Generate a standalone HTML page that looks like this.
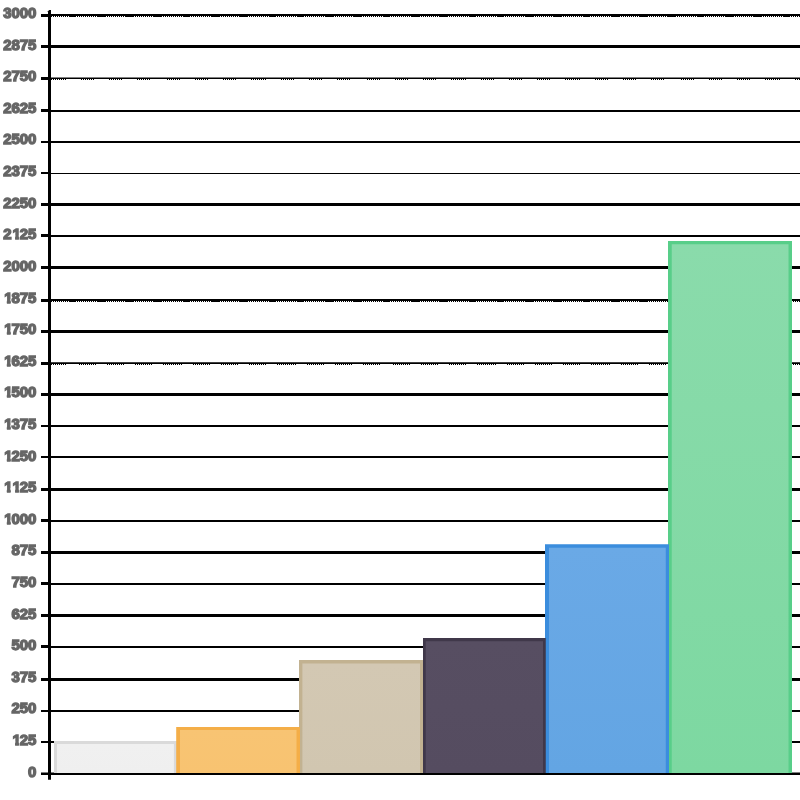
<!DOCTYPE html>
<html><head><meta charset="utf-8"><title>chart</title>
<style>
html,body{margin:0;padding:0;background:#fff;}
body{width:800px;height:800px;position:relative;overflow:hidden;font-family:"Liberation Sans",sans-serif;}
svg{position:absolute;left:0;top:0;}
.l{position:absolute;left:0;width:36.25px;letter-spacing:-0.1px;text-align:right;font-weight:bold;font-size:15px;line-height:16px;height:16px;color:#666;white-space:nowrap;-webkit-text-stroke:1.35px #666;will-change:transform;}
.o{display:inline-block;position:relative;left:1px;clip-path:polygon(-2px -2px,10px -2px,10px 9px,6.4px 9px,6.4px 18px,2.6px 18px,2.6px 9px,-2px 9px);}
</style></head><body>
<svg width="800" height="800" viewBox="0 0 800 800">
<defs>

<linearGradient id="f0" x1="0" y1="0" x2="0" y2="1"><stop offset="0" stop-color="#f0f0f0"/><stop offset="1" stop-color="#efefef"/></linearGradient>
<linearGradient id="f1" x1="0" y1="0" x2="0" y2="1"><stop offset="0" stop-color="#f8c473"/><stop offset="1" stop-color="#f8c371"/></linearGradient>
<linearGradient id="f2" x1="0" y1="0" x2="0" y2="1"><stop offset="0" stop-color="#d3c8b3"/><stop offset="1" stop-color="#d1c6b0"/></linearGradient>
<linearGradient id="f3" x1="0" y1="0" x2="0" y2="1"><stop offset="0" stop-color="#574e62"/><stop offset="1" stop-color="#554c60"/></linearGradient>
<linearGradient id="f4" x1="0" y1="0" x2="0" y2="1"><stop offset="0" stop-color="#6aa9e6"/><stop offset="1" stop-color="#63a5e3"/></linearGradient>
<linearGradient id="f5" x1="0" y1="0" x2="0" y2="1"><stop offset="0" stop-color="#8adbab"/><stop offset="1" stop-color="#7dd8a1"/></linearGradient>
</defs>
<g fill="#000">
<rect x="51" y="14" width="749" height="2"/><rect x="41" y="14" width="8" height="3"/>
<path d="M51 16h1v1h-1zM53 16h1v1h-1zM55 16h1v1h-1zM57 16h1v1h-1zM59 16h1v1h-1zM61 16h1v1h-1zM63 16h1v1h-1zM65 16h1v1h-1zM67 16h1v1h-1zM69 16h7v1h-7zM77 16h1v1h-1zM79 16h1v1h-1zM81 16h1v1h-1zM83 16h1v1h-1zM85 16h1v1h-1zM87 16h1v1h-1zM89 16h1v1h-1zM91 16h1v1h-1zM93 16h1v1h-1zM95 16h1v1h-1zM97 16h9v1h-9zM107 16h1v1h-1zM109 16h1v1h-1zM111 16h1v1h-1zM113 16h1v1h-1zM115 16h1v1h-1zM117 16h1v1h-1zM119 16h1v1h-1zM121 16h1v1h-1zM123 16h1v1h-1zM125 16h9v1h-9zM135 16h1v1h-1zM137 16h1v1h-1zM139 16h1v1h-1zM141 16h1v1h-1zM143 16h1v1h-1zM145 16h1v1h-1zM147 16h1v1h-1zM149 16h1v1h-1zM151 16h1v1h-1zM153 16h9v1h-9zM163 16h1v1h-1zM165 16h1v1h-1zM167 16h1v1h-1zM169 16h1v1h-1zM171 16h1v1h-1zM173 16h1v1h-1zM175 16h1v1h-1zM177 16h1v1h-1zM179 16h1v1h-1zM181 16h1v1h-1zM183 16h7v1h-7zM191 16h1v1h-1zM193 16h1v1h-1zM195 16h1v1h-1zM197 16h1v1h-1zM199 16h1v1h-1zM201 16h1v1h-1zM203 16h1v1h-1zM205 16h1v1h-1zM207 16h1v1h-1zM209 16h1v1h-1zM211 16h9v1h-9zM221 16h1v1h-1zM223 16h1v1h-1zM225 16h1v1h-1zM227 16h1v1h-1zM229 16h1v1h-1zM231 16h1v1h-1zM233 16h1v1h-1zM235 16h1v1h-1zM237 16h1v1h-1zM239 16h9v1h-9zM249 16h1v1h-1zM251 16h1v1h-1zM253 16h1v1h-1zM255 16h1v1h-1zM257 16h1v1h-1zM259 16h1v1h-1zM261 16h1v1h-1zM263 16h1v1h-1zM265 16h1v1h-1zM267 16h1v1h-1zM269 16h7v1h-7zM277 16h1v1h-1zM279 16h1v1h-1zM281 16h1v1h-1zM283 16h1v1h-1zM285 16h1v1h-1zM287 16h1v1h-1zM289 16h1v1h-1zM291 16h1v1h-1zM293 16h1v1h-1zM295 16h1v1h-1zM297 16h7v1h-7zM305 16h1v1h-1zM307 16h1v1h-1zM309 16h1v1h-1zM311 16h1v1h-1zM313 16h1v1h-1zM315 16h1v1h-1zM317 16h1v1h-1zM319 16h1v1h-1zM321 16h1v1h-1zM323 16h1v1h-1zM325 16h9v1h-9zM335 16h1v1h-1zM337 16h1v1h-1zM339 16h1v1h-1zM341 16h1v1h-1zM343 16h1v1h-1zM345 16h1v1h-1zM347 16h1v1h-1zM349 16h1v1h-1zM351 16h1v1h-1zM353 16h9v1h-9zM363 16h1v1h-1zM365 16h1v1h-1zM367 16h1v1h-1zM369 16h1v1h-1zM371 16h1v1h-1zM373 16h1v1h-1zM375 16h1v1h-1zM377 16h1v1h-1zM379 16h1v1h-1zM381 16h1v1h-1zM383 16h7v1h-7zM391 16h1v1h-1zM393 16h1v1h-1zM395 16h1v1h-1zM397 16h1v1h-1zM399 16h1v1h-1zM401 16h1v1h-1zM403 16h1v1h-1zM405 16h1v1h-1zM407 16h1v1h-1zM409 16h1v1h-1zM411 16h9v1h-9zM421 16h1v1h-1zM423 16h1v1h-1zM425 16h1v1h-1zM427 16h1v1h-1zM429 16h1v1h-1zM431 16h1v1h-1zM433 16h1v1h-1zM435 16h1v1h-1zM437 16h1v1h-1zM439 16h9v1h-9zM449 16h1v1h-1zM451 16h1v1h-1zM453 16h1v1h-1zM455 16h1v1h-1zM457 16h1v1h-1zM459 16h1v1h-1zM461 16h1v1h-1zM463 16h1v1h-1zM465 16h1v1h-1zM467 16h1v1h-1zM469 16h7v1h-7zM477 16h1v1h-1zM479 16h1v1h-1zM481 16h1v1h-1zM483 16h1v1h-1zM485 16h1v1h-1zM487 16h1v1h-1zM489 16h1v1h-1zM491 16h1v1h-1zM493 16h1v1h-1zM495 16h1v1h-1zM497 16h7v1h-7zM505 16h1v1h-1zM507 16h1v1h-1zM509 16h1v1h-1zM511 16h1v1h-1zM513 16h1v1h-1zM515 16h1v1h-1zM517 16h1v1h-1zM519 16h1v1h-1zM521 16h1v1h-1zM523 16h1v1h-1zM525 16h9v1h-9zM535 16h1v1h-1zM537 16h1v1h-1zM539 16h1v1h-1zM541 16h1v1h-1zM543 16h1v1h-1zM545 16h1v1h-1zM547 16h1v1h-1zM549 16h1v1h-1zM551 16h1v1h-1zM553 16h9v1h-9zM563 16h1v1h-1zM565 16h1v1h-1zM567 16h1v1h-1zM569 16h1v1h-1zM571 16h1v1h-1zM573 16h1v1h-1zM575 16h1v1h-1zM577 16h1v1h-1zM579 16h1v1h-1zM581 16h1v1h-1zM583 16h7v1h-7zM591 16h1v1h-1zM593 16h1v1h-1zM595 16h1v1h-1zM597 16h1v1h-1zM599 16h1v1h-1zM601 16h1v1h-1zM603 16h1v1h-1zM605 16h1v1h-1zM607 16h1v1h-1zM609 16h1v1h-1zM611 16h9v1h-9zM621 16h1v1h-1zM623 16h1v1h-1zM625 16h1v1h-1zM627 16h1v1h-1zM629 16h1v1h-1zM631 16h1v1h-1zM633 16h1v1h-1zM635 16h1v1h-1zM637 16h1v1h-1zM639 16h9v1h-9zM649 16h1v1h-1zM651 16h1v1h-1zM653 16h1v1h-1zM655 16h1v1h-1zM657 16h1v1h-1zM659 16h1v1h-1zM661 16h1v1h-1zM663 16h1v1h-1zM665 16h1v1h-1zM667 16h9v1h-9zM677 16h1v1h-1zM679 16h1v1h-1zM681 16h1v1h-1zM683 16h1v1h-1zM685 16h1v1h-1zM687 16h1v1h-1zM689 16h1v1h-1zM691 16h1v1h-1zM693 16h1v1h-1zM695 16h1v1h-1zM697 16h7v1h-7zM705 16h1v1h-1zM707 16h1v1h-1zM709 16h1v1h-1zM711 16h1v1h-1zM713 16h1v1h-1zM715 16h1v1h-1zM717 16h1v1h-1zM719 16h1v1h-1zM721 16h1v1h-1zM723 16h1v1h-1zM725 16h9v1h-9zM735 16h1v1h-1zM737 16h1v1h-1zM739 16h1v1h-1zM741 16h1v1h-1zM743 16h1v1h-1zM745 16h1v1h-1zM747 16h1v1h-1zM749 16h1v1h-1zM751 16h1v1h-1zM753 16h9v1h-9zM763 16h1v1h-1zM765 16h1v1h-1zM767 16h1v1h-1zM769 16h1v1h-1zM771 16h1v1h-1zM773 16h1v1h-1zM775 16h1v1h-1zM777 16h1v1h-1zM779 16h1v1h-1zM781 16h1v1h-1zM783 16h7v1h-7zM791 16h1v1h-1zM793 16h1v1h-1zM795 16h1v1h-1zM797 16h1v1h-1zM799 16h1v1h-1z"/>
<rect x="51" y="45" width="749" height="3"/><rect x="41" y="45" width="8" height="3"/>
<rect x="51" y="77.5" width="749" height="1.5"/><rect x="41" y="77" width="8" height="3"/>
<path d="M51 79h1v1h-1zM53 79h1v1h-1zM55 79h1v1h-1zM57 79h1v1h-1zM59 79h1v1h-1zM61 79h1v1h-1zM63 79h1v1h-1zM65 79h1v1h-1zM81 79h1v1h-1zM83 79h1v1h-1zM85 79h1v1h-1zM87 79h1v1h-1zM89 79h1v1h-1zM91 79h1v1h-1zM93 79h1v1h-1zM109 79h1v1h-1zM111 79h1v1h-1zM113 79h1v1h-1zM115 79h1v1h-1zM117 79h1v1h-1zM119 79h1v1h-1zM121 79h1v1h-1zM137 79h1v1h-1zM139 79h1v1h-1zM141 79h1v1h-1zM143 79h1v1h-1zM145 79h1v1h-1zM147 79h1v1h-1zM149 79h1v1h-1zM167 79h1v1h-1zM169 79h1v1h-1zM171 79h1v1h-1zM173 79h1v1h-1zM175 79h1v1h-1zM177 79h1v1h-1zM179 79h1v1h-1zM195 79h1v1h-1zM197 79h1v1h-1zM199 79h1v1h-1zM201 79h1v1h-1zM203 79h1v1h-1zM205 79h1v1h-1zM207 79h1v1h-1zM223 79h1v1h-1zM225 79h1v1h-1zM227 79h1v1h-1zM229 79h1v1h-1zM231 79h1v1h-1zM233 79h1v1h-1zM235 79h1v1h-1zM251 79h1v1h-1zM253 79h1v1h-1zM255 79h1v1h-1zM257 79h1v1h-1zM259 79h1v1h-1zM261 79h1v1h-1zM263 79h1v1h-1zM265 79h1v1h-1zM281 79h1v1h-1zM283 79h1v1h-1zM285 79h1v1h-1zM287 79h1v1h-1zM289 79h1v1h-1zM291 79h1v1h-1zM293 79h1v1h-1zM309 79h1v1h-1zM311 79h1v1h-1zM313 79h1v1h-1zM315 79h1v1h-1zM317 79h1v1h-1zM319 79h1v1h-1zM321 79h1v1h-1zM337 79h1v1h-1zM339 79h1v1h-1zM341 79h1v1h-1zM343 79h1v1h-1zM345 79h1v1h-1zM347 79h1v1h-1zM349 79h1v1h-1zM367 79h1v1h-1zM369 79h1v1h-1zM371 79h1v1h-1zM373 79h1v1h-1zM375 79h1v1h-1zM377 79h1v1h-1zM379 79h1v1h-1zM395 79h1v1h-1zM397 79h1v1h-1zM399 79h1v1h-1zM401 79h1v1h-1zM403 79h1v1h-1zM405 79h1v1h-1zM407 79h1v1h-1zM423 79h1v1h-1zM425 79h1v1h-1zM427 79h1v1h-1zM429 79h1v1h-1zM431 79h1v1h-1zM433 79h1v1h-1zM435 79h1v1h-1zM451 79h1v1h-1zM453 79h1v1h-1zM455 79h1v1h-1zM457 79h1v1h-1zM459 79h1v1h-1zM461 79h1v1h-1zM463 79h1v1h-1zM465 79h1v1h-1zM481 79h1v1h-1zM483 79h1v1h-1zM485 79h1v1h-1zM487 79h1v1h-1zM489 79h1v1h-1zM491 79h1v1h-1zM493 79h1v1h-1zM509 79h1v1h-1zM511 79h1v1h-1zM513 79h1v1h-1zM515 79h1v1h-1zM517 79h1v1h-1zM519 79h1v1h-1zM521 79h1v1h-1zM537 79h1v1h-1zM539 79h1v1h-1zM541 79h1v1h-1zM543 79h1v1h-1zM545 79h1v1h-1zM547 79h1v1h-1zM549 79h1v1h-1zM565 79h1v1h-1zM567 79h1v1h-1zM569 79h1v1h-1zM571 79h1v1h-1zM573 79h1v1h-1zM575 79h1v1h-1zM577 79h1v1h-1zM579 79h1v1h-1zM595 79h1v1h-1zM597 79h1v1h-1zM599 79h1v1h-1zM601 79h1v1h-1zM603 79h1v1h-1zM605 79h1v1h-1zM607 79h1v1h-1zM623 79h1v1h-1zM625 79h1v1h-1zM627 79h1v1h-1zM629 79h1v1h-1zM631 79h1v1h-1zM633 79h1v1h-1zM635 79h1v1h-1zM651 79h1v1h-1zM653 79h1v1h-1zM655 79h1v1h-1zM657 79h1v1h-1zM659 79h1v1h-1zM661 79h1v1h-1zM663 79h1v1h-1zM681 79h1v1h-1zM683 79h1v1h-1zM685 79h1v1h-1zM687 79h1v1h-1zM689 79h1v1h-1zM691 79h1v1h-1zM693 79h1v1h-1zM709 79h1v1h-1zM711 79h1v1h-1zM713 79h1v1h-1zM715 79h1v1h-1zM717 79h1v1h-1zM719 79h1v1h-1zM721 79h1v1h-1zM737 79h1v1h-1zM739 79h1v1h-1zM741 79h1v1h-1zM743 79h1v1h-1zM745 79h1v1h-1zM747 79h1v1h-1zM749 79h1v1h-1zM765 79h1v1h-1zM767 79h1v1h-1zM769 79h1v1h-1zM771 79h1v1h-1zM773 79h1v1h-1zM775 79h1v1h-1zM777 79h1v1h-1zM779 79h1v1h-1zM795 79h1v1h-1zM797 79h1v1h-1zM799 79h1v1h-1z"/>
<rect x="51" y="110" width="749" height="2"/><rect x="41" y="109" width="8" height="3"/>
<rect x="51" y="141" width="749" height="2"/><rect x="41" y="141" width="8" height="2"/>
<rect x="51" y="173" width="749" height="1"/><rect x="41" y="172" width="8" height="2"/>
<rect x="51" y="203" width="749" height="3"/><rect x="41" y="203" width="8" height="3"/>
<rect x="51" y="235" width="749" height="2"/><rect x="41" y="234" width="8" height="3"/>
<rect x="51" y="266" width="749" height="3"/><rect x="41" y="266" width="8" height="3"/>
<rect x="51" y="299" width="749" height="2"/><rect x="41" y="299" width="8" height="3"/>
<path d="M51 301h1v1h-1zM53 301h1v1h-1zM55 301h1v1h-1zM57 301h1v1h-1zM59 301h1v1h-1zM61 301h1v1h-1zM63 301h1v1h-1zM65 301h1v1h-1zM67 301h1v1h-1zM69 301h7v1h-7zM77 301h1v1h-1zM79 301h1v1h-1zM81 301h1v1h-1zM83 301h1v1h-1zM85 301h1v1h-1zM87 301h1v1h-1zM89 301h1v1h-1zM91 301h1v1h-1zM93 301h1v1h-1zM95 301h1v1h-1zM97 301h9v1h-9zM107 301h1v1h-1zM109 301h1v1h-1zM111 301h1v1h-1zM113 301h1v1h-1zM115 301h1v1h-1zM117 301h1v1h-1zM119 301h1v1h-1zM121 301h1v1h-1zM123 301h1v1h-1zM125 301h9v1h-9zM135 301h1v1h-1zM137 301h1v1h-1zM139 301h1v1h-1zM141 301h1v1h-1zM143 301h1v1h-1zM145 301h1v1h-1zM147 301h1v1h-1zM149 301h1v1h-1zM151 301h1v1h-1zM153 301h9v1h-9zM163 301h1v1h-1zM165 301h1v1h-1zM167 301h1v1h-1zM169 301h1v1h-1zM171 301h1v1h-1zM173 301h1v1h-1zM175 301h1v1h-1zM177 301h1v1h-1zM179 301h1v1h-1zM181 301h1v1h-1zM183 301h7v1h-7zM191 301h1v1h-1zM193 301h1v1h-1zM195 301h1v1h-1zM197 301h1v1h-1zM199 301h1v1h-1zM201 301h1v1h-1zM203 301h1v1h-1zM205 301h1v1h-1zM207 301h1v1h-1zM209 301h1v1h-1zM211 301h9v1h-9zM221 301h1v1h-1zM223 301h1v1h-1zM225 301h1v1h-1zM227 301h1v1h-1zM229 301h1v1h-1zM231 301h1v1h-1zM233 301h1v1h-1zM235 301h1v1h-1zM237 301h1v1h-1zM239 301h9v1h-9zM249 301h1v1h-1zM251 301h1v1h-1zM253 301h1v1h-1zM255 301h1v1h-1zM257 301h1v1h-1zM259 301h1v1h-1zM261 301h1v1h-1zM263 301h1v1h-1zM265 301h1v1h-1zM267 301h1v1h-1zM269 301h7v1h-7zM277 301h1v1h-1zM279 301h1v1h-1zM281 301h1v1h-1zM283 301h1v1h-1zM285 301h1v1h-1zM287 301h1v1h-1zM289 301h1v1h-1zM291 301h1v1h-1zM293 301h1v1h-1zM295 301h1v1h-1zM297 301h7v1h-7zM305 301h1v1h-1zM307 301h1v1h-1zM309 301h1v1h-1zM311 301h1v1h-1zM313 301h1v1h-1zM315 301h1v1h-1zM317 301h1v1h-1zM319 301h1v1h-1zM321 301h1v1h-1zM323 301h1v1h-1zM325 301h9v1h-9zM335 301h1v1h-1zM337 301h1v1h-1zM339 301h1v1h-1zM341 301h1v1h-1zM343 301h1v1h-1zM345 301h1v1h-1zM347 301h1v1h-1zM349 301h1v1h-1zM351 301h1v1h-1zM353 301h9v1h-9zM363 301h1v1h-1zM365 301h1v1h-1zM367 301h1v1h-1zM369 301h1v1h-1zM371 301h1v1h-1zM373 301h1v1h-1zM375 301h1v1h-1zM377 301h1v1h-1zM379 301h1v1h-1zM381 301h1v1h-1zM383 301h7v1h-7zM391 301h1v1h-1zM393 301h1v1h-1zM395 301h1v1h-1zM397 301h1v1h-1zM399 301h1v1h-1zM401 301h1v1h-1zM403 301h1v1h-1zM405 301h1v1h-1zM407 301h1v1h-1zM409 301h1v1h-1zM411 301h9v1h-9zM421 301h1v1h-1zM423 301h1v1h-1zM425 301h1v1h-1zM427 301h1v1h-1zM429 301h1v1h-1zM431 301h1v1h-1zM433 301h1v1h-1zM435 301h1v1h-1zM437 301h1v1h-1zM439 301h9v1h-9zM449 301h1v1h-1zM451 301h1v1h-1zM453 301h1v1h-1zM455 301h1v1h-1zM457 301h1v1h-1zM459 301h1v1h-1zM461 301h1v1h-1zM463 301h1v1h-1zM465 301h1v1h-1zM467 301h1v1h-1zM469 301h7v1h-7zM477 301h1v1h-1zM479 301h1v1h-1zM481 301h1v1h-1zM483 301h1v1h-1zM485 301h1v1h-1zM487 301h1v1h-1zM489 301h1v1h-1zM491 301h1v1h-1zM493 301h1v1h-1zM495 301h1v1h-1zM497 301h7v1h-7zM505 301h1v1h-1zM507 301h1v1h-1zM509 301h1v1h-1zM511 301h1v1h-1zM513 301h1v1h-1zM515 301h1v1h-1zM517 301h1v1h-1zM519 301h1v1h-1zM521 301h1v1h-1zM523 301h1v1h-1zM525 301h9v1h-9zM535 301h1v1h-1zM537 301h1v1h-1zM539 301h1v1h-1zM541 301h1v1h-1zM543 301h1v1h-1zM545 301h1v1h-1zM547 301h1v1h-1zM549 301h1v1h-1zM551 301h1v1h-1zM553 301h9v1h-9zM563 301h1v1h-1zM565 301h1v1h-1zM567 301h1v1h-1zM569 301h1v1h-1zM571 301h1v1h-1zM573 301h1v1h-1zM575 301h1v1h-1zM577 301h1v1h-1zM579 301h1v1h-1zM581 301h1v1h-1zM583 301h7v1h-7zM591 301h1v1h-1zM593 301h1v1h-1zM595 301h1v1h-1zM597 301h1v1h-1zM599 301h1v1h-1zM601 301h1v1h-1zM603 301h1v1h-1zM605 301h1v1h-1zM607 301h1v1h-1zM609 301h1v1h-1zM611 301h9v1h-9zM621 301h1v1h-1zM623 301h1v1h-1zM625 301h1v1h-1zM627 301h1v1h-1zM629 301h1v1h-1zM631 301h1v1h-1zM633 301h1v1h-1zM635 301h1v1h-1zM637 301h1v1h-1zM639 301h9v1h-9zM649 301h1v1h-1zM651 301h1v1h-1zM653 301h1v1h-1zM655 301h1v1h-1zM657 301h1v1h-1zM659 301h1v1h-1zM661 301h1v1h-1zM663 301h1v1h-1zM665 301h1v1h-1zM667 301h9v1h-9zM677 301h1v1h-1zM679 301h1v1h-1zM681 301h1v1h-1zM683 301h1v1h-1zM685 301h1v1h-1zM687 301h1v1h-1zM689 301h1v1h-1zM691 301h1v1h-1zM693 301h1v1h-1zM695 301h1v1h-1zM697 301h7v1h-7zM705 301h1v1h-1zM707 301h1v1h-1zM709 301h1v1h-1zM711 301h1v1h-1zM713 301h1v1h-1zM715 301h1v1h-1zM717 301h1v1h-1zM719 301h1v1h-1zM721 301h1v1h-1zM723 301h1v1h-1zM725 301h9v1h-9zM735 301h1v1h-1zM737 301h1v1h-1zM739 301h1v1h-1zM741 301h1v1h-1zM743 301h1v1h-1zM745 301h1v1h-1zM747 301h1v1h-1zM749 301h1v1h-1zM751 301h1v1h-1zM753 301h9v1h-9zM763 301h1v1h-1zM765 301h1v1h-1zM767 301h1v1h-1zM769 301h1v1h-1zM771 301h1v1h-1zM773 301h1v1h-1zM775 301h1v1h-1zM777 301h1v1h-1zM779 301h1v1h-1zM781 301h1v1h-1zM783 301h7v1h-7zM791 301h1v1h-1zM793 301h1v1h-1zM795 301h1v1h-1zM797 301h1v1h-1zM799 301h1v1h-1z"/>
<rect x="51" y="330" width="749" height="3"/><rect x="41" y="330" width="8" height="3"/>
<rect x="51" y="362.25" width="749" height="1.75"/><rect x="41" y="362" width="8" height="3"/>
<path d="M51 364h1v1h-1zM53 364h1v1h-1zM55 364h1v1h-1zM57 364h1v1h-1zM59 364h1v1h-1zM61 364h1v1h-1zM63 364h1v1h-1zM65 364h1v1h-1zM79 364h1v1h-1zM81 364h1v1h-1zM83 364h1v1h-1zM85 364h1v1h-1zM87 364h1v1h-1zM89 364h1v1h-1zM91 364h1v1h-1zM93 364h1v1h-1zM95 364h1v1h-1zM107 364h1v1h-1zM109 364h1v1h-1zM111 364h1v1h-1zM113 364h1v1h-1zM115 364h1v1h-1zM117 364h1v1h-1zM119 364h1v1h-1zM121 364h1v1h-1zM123 364h1v1h-1zM135 364h1v1h-1zM137 364h1v1h-1zM139 364h1v1h-1zM141 364h1v1h-1zM143 364h1v1h-1zM145 364h1v1h-1zM147 364h1v1h-1zM149 364h1v1h-1zM151 364h1v1h-1zM163 364h1v1h-1zM165 364h1v1h-1zM167 364h1v1h-1zM169 364h1v1h-1zM171 364h1v1h-1zM173 364h1v1h-1zM175 364h1v1h-1zM177 364h1v1h-1zM179 364h1v1h-1zM181 364h1v1h-1zM193 364h1v1h-1zM195 364h1v1h-1zM197 364h1v1h-1zM199 364h1v1h-1zM201 364h1v1h-1zM203 364h1v1h-1zM205 364h1v1h-1zM207 364h1v1h-1zM209 364h1v1h-1zM221 364h1v1h-1zM223 364h1v1h-1zM225 364h1v1h-1zM227 364h1v1h-1zM229 364h1v1h-1zM231 364h1v1h-1zM233 364h1v1h-1zM235 364h1v1h-1zM237 364h1v1h-1zM249 364h1v1h-1zM251 364h1v1h-1zM253 364h1v1h-1zM255 364h1v1h-1zM257 364h1v1h-1zM259 364h1v1h-1zM261 364h1v1h-1zM263 364h1v1h-1zM265 364h1v1h-1zM277 364h1v1h-1zM279 364h1v1h-1zM281 364h1v1h-1zM283 364h1v1h-1zM285 364h1v1h-1zM287 364h1v1h-1zM289 364h1v1h-1zM291 364h1v1h-1zM293 364h1v1h-1zM295 364h1v1h-1zM307 364h1v1h-1zM309 364h1v1h-1zM311 364h1v1h-1zM313 364h1v1h-1zM315 364h1v1h-1zM317 364h1v1h-1zM319 364h1v1h-1zM321 364h1v1h-1zM323 364h1v1h-1zM335 364h1v1h-1zM337 364h1v1h-1zM339 364h1v1h-1zM341 364h1v1h-1zM343 364h1v1h-1zM345 364h1v1h-1zM347 364h1v1h-1zM349 364h1v1h-1zM351 364h1v1h-1zM363 364h1v1h-1zM365 364h1v1h-1zM367 364h1v1h-1zM369 364h1v1h-1zM371 364h1v1h-1zM373 364h1v1h-1zM375 364h1v1h-1zM377 364h1v1h-1zM379 364h1v1h-1zM393 364h1v1h-1zM395 364h1v1h-1zM397 364h1v1h-1zM399 364h1v1h-1zM401 364h1v1h-1zM403 364h1v1h-1zM405 364h1v1h-1zM407 364h1v1h-1zM409 364h1v1h-1zM421 364h1v1h-1zM423 364h1v1h-1zM425 364h1v1h-1zM427 364h1v1h-1zM429 364h1v1h-1zM431 364h1v1h-1zM433 364h1v1h-1zM435 364h1v1h-1zM437 364h1v1h-1zM449 364h1v1h-1zM451 364h1v1h-1zM453 364h1v1h-1zM455 364h1v1h-1zM457 364h1v1h-1zM459 364h1v1h-1zM461 364h1v1h-1zM463 364h1v1h-1zM465 364h1v1h-1zM477 364h1v1h-1zM479 364h1v1h-1zM481 364h1v1h-1zM483 364h1v1h-1zM485 364h1v1h-1zM487 364h1v1h-1zM489 364h1v1h-1zM491 364h1v1h-1zM493 364h1v1h-1zM495 364h1v1h-1zM507 364h1v1h-1zM509 364h1v1h-1zM511 364h1v1h-1zM513 364h1v1h-1zM515 364h1v1h-1zM517 364h1v1h-1zM519 364h1v1h-1zM521 364h1v1h-1zM523 364h1v1h-1zM535 364h1v1h-1zM537 364h1v1h-1zM539 364h1v1h-1zM541 364h1v1h-1zM543 364h1v1h-1zM545 364h1v1h-1zM547 364h1v1h-1zM549 364h1v1h-1zM551 364h1v1h-1zM563 364h1v1h-1zM565 364h1v1h-1zM567 364h1v1h-1zM569 364h1v1h-1zM571 364h1v1h-1zM573 364h1v1h-1zM575 364h1v1h-1zM577 364h1v1h-1zM579 364h1v1h-1zM591 364h1v1h-1zM593 364h1v1h-1zM595 364h1v1h-1zM597 364h1v1h-1zM599 364h1v1h-1zM601 364h1v1h-1zM603 364h1v1h-1zM605 364h1v1h-1zM607 364h1v1h-1zM609 364h1v1h-1zM621 364h1v1h-1zM623 364h1v1h-1zM625 364h1v1h-1zM627 364h1v1h-1zM629 364h1v1h-1zM631 364h1v1h-1zM633 364h1v1h-1zM635 364h1v1h-1zM637 364h1v1h-1zM649 364h1v1h-1zM651 364h1v1h-1zM653 364h1v1h-1zM655 364h1v1h-1zM657 364h1v1h-1zM659 364h1v1h-1zM661 364h1v1h-1zM663 364h1v1h-1zM665 364h1v1h-1zM677 364h1v1h-1zM679 364h1v1h-1zM681 364h1v1h-1zM683 364h1v1h-1zM685 364h1v1h-1zM687 364h1v1h-1zM689 364h1v1h-1zM691 364h1v1h-1zM693 364h1v1h-1zM707 364h1v1h-1zM709 364h1v1h-1zM711 364h1v1h-1zM713 364h1v1h-1zM715 364h1v1h-1zM717 364h1v1h-1zM719 364h1v1h-1zM721 364h1v1h-1zM723 364h1v1h-1zM735 364h1v1h-1zM737 364h1v1h-1zM739 364h1v1h-1zM741 364h1v1h-1zM743 364h1v1h-1zM745 364h1v1h-1zM747 364h1v1h-1zM749 364h1v1h-1zM751 364h1v1h-1zM763 364h1v1h-1zM765 364h1v1h-1zM767 364h1v1h-1zM769 364h1v1h-1zM771 364h1v1h-1zM773 364h1v1h-1zM775 364h1v1h-1zM777 364h1v1h-1zM779 364h1v1h-1zM791 364h1v1h-1zM793 364h1v1h-1zM795 364h1v1h-1zM797 364h1v1h-1zM799 364h1v1h-1z"/>
<rect x="51" y="393" width="749" height="3"/><rect x="41" y="393" width="8" height="3"/>
<rect x="51" y="425" width="749" height="2"/><rect x="41" y="425" width="8" height="2"/>
<rect x="51" y="456" width="749" height="2"/><rect x="41" y="456" width="8" height="2"/>
<rect x="51" y="488" width="749" height="3"/><rect x="41" y="488" width="8" height="3"/>
<rect x="51" y="520" width="749" height="2"/><rect x="41" y="519" width="8" height="3"/>
<rect x="51" y="551" width="749" height="3"/><rect x="41" y="551" width="8" height="3"/>
<rect x="51" y="583" width="749" height="2"/><rect x="41" y="582" width="8" height="3"/>
<rect x="51" y="614" width="749" height="3"/><rect x="41" y="614" width="8" height="3"/>
<rect x="51" y="646" width="749" height="2"/><rect x="41" y="645" width="8" height="3"/>
<rect x="51" y="678" width="749" height="3"/><rect x="41" y="678" width="8" height="3"/>
<rect x="51" y="710" width="749" height="2"/><rect x="41" y="710" width="8" height="2"/>
<rect x="51" y="741" width="749" height="2"/><rect x="41" y="741" width="8" height="2"/>
<rect x="51" y="772.5" width="749" height="2.5"/><rect x="41" y="772.5" width="8" height="2.5"/>
<path d="M48 11.2L49.2 10H51V779.8H48z"/>
</g>
<rect x="668" y="241" width="124.00" height="532" fill="#58ce89"/><rect x="671.75" y="244.25" width="116.75" height="528.75" fill="url(#f5)"/>
<rect x="545" y="544.25" width="124.00" height="228.75" fill="#3b8ddd"/><rect x="549" y="547.75" width="116.75" height="225.25" fill="url(#f4)"/>
<rect x="423" y="638" width="122.75" height="135" fill="#40384a"/><rect x="425.75" y="641.25" width="117.25" height="131.75" fill="url(#f3)"/>
<rect x="299" y="660" width="124.00" height="113" fill="#c2b291"/><rect x="302.4" y="663.5" width="117.60" height="109.5" fill="url(#f2)"/>
<rect x="54" y="741" width="123.00" height="32" fill="#dadada"/><rect x="57" y="744" width="116.90" height="29" fill="url(#f0)"/>
<rect x="176.2" y="727" width="123.80" height="46" fill="#f4ae48"/><rect x="180.0" y="730" width="116.50" height="43" fill="url(#f1)"/>
</svg>
<div class="l" style="top:5.07px">3000</div>
<div class="l" style="top:36.67px">2875</div>
<div class="l" style="top:68.28px">2750</div>
<div class="l" style="top:99.88px">2625</div>
<div class="l" style="top:131.49px">2500</div>
<div class="l" style="top:163.09px">2375</div>
<div class="l" style="top:194.69px">2250</div>
<div class="l" style="top:226.30px">2<span class="o">1</span>25</div>
<div class="l" style="top:257.90px">2000</div>
<div class="l" style="top:289.51px"><span class="o">1</span>875</div>
<div class="l" style="top:321.11px"><span class="o">1</span>750</div>
<div class="l" style="top:352.71px"><span class="o">1</span>625</div>
<div class="l" style="top:384.32px"><span class="o">1</span>500</div>
<div class="l" style="top:415.92px"><span class="o">1</span>375</div>
<div class="l" style="top:447.53px"><span class="o">1</span>250</div>
<div class="l" style="top:479.13px"><span class="o">1</span><span class="o">1</span>25</div>
<div class="l" style="top:510.73px"><span class="o">1</span>000</div>
<div class="l" style="top:542.34px">875</div>
<div class="l" style="top:573.94px">750</div>
<div class="l" style="top:605.55px">625</div>
<div class="l" style="top:637.15px">500</div>
<div class="l" style="top:668.75px">375</div>
<div class="l" style="top:700.36px">250</div>
<div class="l" style="top:731.96px"><span class="o">1</span>25</div>
<div class="l" style="top:763.57px">0</div>
</body></html>
